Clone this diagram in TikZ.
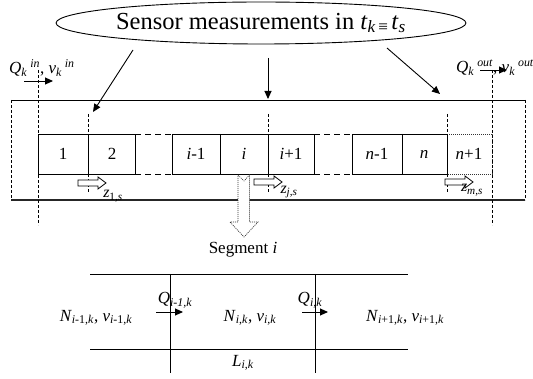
\documentclass[tikz,border=0pt]{standalone}
\usepackage{fontspec}
\setmainfont{Liberation Serif}
\usetikzlibrary{arrows.meta,shapes.geometric}
\newcommand{\vi}[1]{\textit{#1}}
\tikzset{
  ln/.style={line width=0.9pt},
  thk/.style={line width=1.1pt, draw=black!85},
  dsh/.style={line width=0.9pt, dash pattern=on 3pt off 2pt},
  gapdsh/.style={line width=0.9pt, dash pattern=on 6pt off 4pt},
  dtt/.style={line width=0.7pt, dash pattern=on 1pt off 1pt, draw=black!80},
  lbl/.style={font=\fontsize{17}{20}\selectfont, inner sep=0pt},
  zlbl/.style={font=\fontsize{16}{19}\selectfont, inner sep=0pt},
  arr/.style={-{Triangle[length=8pt,width=7pt]}, line width=0.9pt},
  harrow/.style={draw, fill=white, line width=0.8pt},
}
\begin{document}
\begin{tikzpicture}[x=1pt,y=-1pt]
\useasboundingbox (0,0) rectangle (533,379);

% sensor ellipse
\node[ellipse, draw, line width=0.9pt, minimum width=312pt, minimum height=42pt, inner sep=0pt] (sensor) at (261,23)
  {\fontsize{24.5}{28}\selectfont Sensor measurements in \vi{t}\textsubscript{\vi{k}\,≡\,}\vi{t}\textsubscript{\vi{s}}};

% outer road
\coordinate (otl) at (11,100); \coordinate (otr) at (525,100);
\coordinate (obl) at (11,200); \coordinate (obr) at (525,200);
\draw[ln] (otl) -- (otr);
\draw[thk] (obl) -- (obr);
\draw[dsh] (otl) -- (obl);
\draw[dsh] (otr) -- (obr);

% sensor arrows
\coordinate (s1a) at (133,50); \coordinate (s1b) at (93,112);
\coordinate (s2a) at (268,58); \coordinate (s2b) at (268,99);
\coordinate (s3a) at (387,48); \coordinate (s3b) at (440,94);
\draw[arr] (s1a) -- (s1b);
\draw[arr] (s2a) -- (s2b);
\draw[arr] (s3a) -- (s3b);

% cells
\draw[ln] (38,134) rectangle (135,174);
\draw[ln] (88,134) -- (88,174);
\draw[gapdsh] (135,134) -- (172,134);
\draw[gapdsh] (135,174) -- (172,174);
\draw[ln] (172,134) rectangle (314,174);
\draw[ln] (220,134) -- (220,174);
\draw[ln] (268,134) -- (268,174);
\draw[gapdsh] (314,134) -- (352,134);
\draw[gapdsh] (314,174) -- (352,174);
\draw[ln] (352,134) rectangle (447,174);
\draw[ln] (402,134) -- (402,174);
\draw[dtt] (447,134) -- (492,134) -- (492,174) -- (447,174);

\node[lbl] (c1) at (63,154) {1};
\node[lbl] (c2) at (112,154) {2};
\node[lbl] (cim) at (196,154) {\vi{i}-1};
\node[lbl] (ci) at (244,154) {\vi{i}};
\node[lbl] (cip) at (291,154) {\vi{i}+1};
\node[lbl] (cnm) at (377,154) {\vi{n}-1};
\node[lbl] (cn) at (424,154) {\vi{n}};
\node[lbl] (cnp) at (469,154) {\vi{n}+1};

% boundary dashed lines
\coordinate (qia) at (38,70); \coordinate (qib) at (38,225);
\coordinate (qoa) at (492,70); \coordinate (qob) at (492,225);
\draw[dsh] (qia) -- (qib);
\draw[dsh] (qoa) -- (qob);
% sensor dashed lines
\coordinate (d1a) at (88,114); \coordinate (d1b) at (88,192);
\coordinate (d2a) at (268,114); \coordinate (d2b) at (268,192);
\coordinate (d3a) at (447,114); \coordinate (d3b) at (447,192);
\draw[dsh] (d1a) -- (d1b);
\draw[dsh] (d2a) -- (d2b);
\draw[dsh] (d3a) -- (d3b);

% in/out flows
\node[lbl, anchor=base west] (qin) at (9,74)
  {\vi{Q}\textsubscript{\vi{k}}\,\textsuperscript{\vi{in}}, \vi{v}\textsubscript{\vi{k}}\,\textsuperscript{\vi{in}}};
\coordinate (qina) at (24,81); \coordinate (qinb) at (53,81);
\draw[arr] (qina) -- (qinb);
\node[lbl, anchor=base west] (qout) at (456,73)
  {\vi{Q}\textsubscript{\vi{k}}\,\textsuperscript{\vi{out}}, \vi{v}\textsubscript{\vi{k}}\,\textsuperscript{\vi{out}}};
\coordinate (qouta) at (480,70); \coordinate (qoutb) at (507,70);
\draw[arr] (qouta) -- (qoutb);

% hollow arrows (sensor positions)
\foreach \x/\y in {78/183, 254/182, 445/182}{
  \draw[harrow] (\x,\y-3) -- ++(20,0) -- ++(0,-3) -- ++(8,6) -- ++(-8,6) -- ++(0,-3) -- ++(-20,0) -- cycle;
}
\node[zlbl] (z1) at (113,196) {\vi{z}\textsubscript{1,\vi{s}}};
\node[zlbl] (zj) at (289,192) {\vi{z}\textsubscript{\vi{j},\vi{s}}};
\node[zlbl] (zm) at (472,190) {\vi{z}\textsubscript{\vi{m},\vi{s}}};

% dotted hollow down arrow
\draw[dtt, fill=white] (238,175) -- (244,181) -- (249.5,175) -- (249.5,222) -- (258,222) -- (244,237) -- (230,222) -- (238,222) -- cycle;

% segment i detail
\node[lbl] (seg) at (243,250) {Segment \vi{i}};
\coordinate (ta) at (90,274); \coordinate (tb) at (408,274);
\coordinate (ba) at (90,349); \coordinate (bb) at (408,349);
\draw[ln] (ta) -- (tb);
\draw[ln] (ba) -- (bb);
\coordinate (v1a) at (170,274); \coordinate (v1b) at (170,373);
\coordinate (v2a) at (315,274); \coordinate (v2b) at (315,373);
\draw[ln] (v1a) -- (v1b);
\draw[ln] (v2a) -- (v2b);

\node[lbl] (nim) at (96,318) {\vi{N}\textsubscript{\vi{i}-1,\vi{k}}, \vi{v}\textsubscript{\vi{i}-1,\vi{k}}};
\node[lbl] (ni) at (250,318) {\vi{N}\textsubscript{\vi{i},\vi{k}}, \vi{v}\textsubscript{\vi{i},\vi{k}}};
\node[lbl] (nip) at (405,318) {\vi{N}\textsubscript{\vi{i}+1,\vi{k}}, \vi{v}\textsubscript{\vi{i}+1,\vi{k}}};
\node[lbl] (qim) at (175,300) {\vi{Q}\textsubscript{\vi{i-1,k}}};
\node[lbl] (qi) at (310,300) {\vi{Q}\textsubscript{\vi{i,k}}};
\coordinate (a1a) at (156,312); \coordinate (a1b) at (183,312);
\coordinate (a2a) at (302,312); \coordinate (a2b) at (328,312);
\draw[arr] (a1a) -- (a1b);
\draw[arr] (a2a) -- (a2b);
\node[lbl] (lik) at (243,363) {\vi{L}\textsubscript{\vi{i},\vi{k}}};
\end{tikzpicture}
\end{document}
